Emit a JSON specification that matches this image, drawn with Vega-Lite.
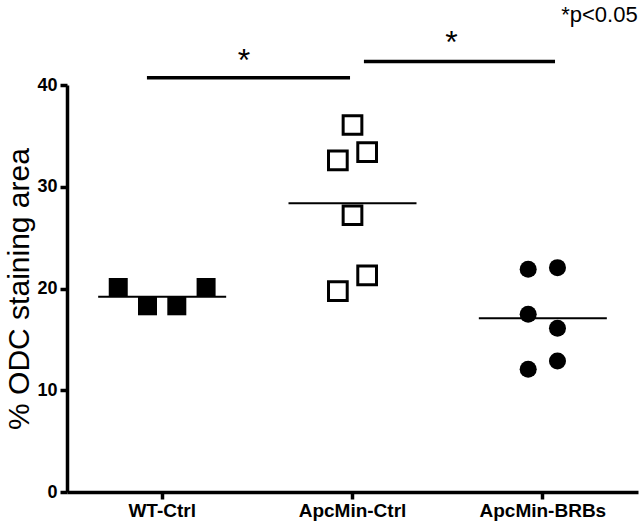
{
  "$schema": "https://vega.github.io/schema/vega-lite/v6.json",
  "width": 571,
  "height": 407,
  "autosize": {"type": "none"},
  "padding": {"left": 67, "top": 85, "right": 2, "bottom": 33},
  "background": "white",
  "config": {
    "view": {"stroke": null},
    "font": "Liberation Sans"
  },
  "datasets": {
    "points": [
      {"group": "WT-Ctrl", "slot": -3, "value": 20.1},
      {"group": "WT-Ctrl", "slot": -1, "value": 18.3},
      {"group": "WT-Ctrl", "slot": 1, "value": 18.3},
      {"group": "WT-Ctrl", "slot": 3, "value": 20.1},
      {"group": "ApcMin-Ctrl", "slot": 0, "value": 36.07},
      {"group": "ApcMin-Ctrl", "slot": -1, "value": 32.6},
      {"group": "ApcMin-Ctrl", "slot": 1, "value": 33.4},
      {"group": "ApcMin-Ctrl", "slot": 0, "value": 27.2},
      {"group": "ApcMin-Ctrl", "slot": 1, "value": 21.3},
      {"group": "ApcMin-Ctrl", "slot": -1, "value": 19.75},
      {"group": "ApcMin-BRBs", "slot": -1, "value": 21.9},
      {"group": "ApcMin-BRBs", "slot": 1, "value": 22.05},
      {"group": "ApcMin-BRBs", "slot": -1, "value": 17.46},
      {"group": "ApcMin-BRBs", "slot": 1, "value": 16.09},
      {"group": "ApcMin-BRBs", "slot": 1, "value": 12.87},
      {"group": "ApcMin-BRBs", "slot": -1, "value": 12.06}
    ],
    "means": [
      {"group": "WT-Ctrl", "value": 19.2},
      {"group": "ApcMin-Ctrl", "value": 28.39},
      {"group": "ApcMin-BRBs", "value": 17.07}
    ],
    "sig": [
      {"x": 0.42, "x2": 1.487, "y": 40.72},
      {"x": 1.56, "x2": 2.564, "y": 42.3}
    ],
    "labels": [
      {"x": 0.93, "y": 41.35, "t": "*"},
      {"x": 2.02, "y": 43.1, "t": "*"}
    ],
    "note": [
      {"x": 2.998, "y": 46.9, "t": "*p<0.05"}
    ]
  },
  "layer": [
    {
      "encoding": {
        "x": {
          "field": "group",
          "type": "nominal",
          "sort": null,
          "scale": {"type": "band", "domain": ["WT-Ctrl", "ApcMin-Ctrl", "ApcMin-BRBs"], "paddingInner": 0, "paddingOuter": 0},
          "axis": {
            "title": null,
            "labelAngle": 0,
            "labelFontSize": 19,
            "labelFontWeight": "bold",
            "labelColor": "black",
            "labelPadding": 2,
            "domainColor": "black",
            "domainWidth": 3.5,
            "tickColor": "black",
            "tickWidth": 3.5,
            "tickSize": 7,
            "grid": false
          }
        },
        "y": {
          "field": "value",
          "type": "quantitative",
          "scale": {"domain": [0, 40], "nice": false},
          "axis": {
            "values": [0, 10, 20, 30, 40],
            "title": "% ODC staining area",
            "titleFontSize": 30,
            "titleFontWeight": "normal",
            "titleColor": "black",
            "titlePadding": 2,
            "labelFontSize": 18,
            "labelFontWeight": "bold",
            "labelColor": "black",
            "labelPadding": 3,
            "domainColor": "black",
            "domainWidth": 3.5,
            "tickColor": "black",
            "tickWidth": 3.5,
            "tickSize": 7,
            "grid": false
          }
        }
      },
      "layer": [
        {
          "data": {"name": "points"},
          "transform": [{"filter": "datum.group === 'WT-Ctrl'"}],
          "mark": {"type": "square", "size": 361, "color": "black", "opacity": 1},
          "encoding": {"xOffset": {"field": "slot", "type": "quantitative", "scale": {"domain": [-6.5, 6.5]}}}
        },
        {
          "data": {"name": "points"},
          "transform": [{"filter": "datum.group === 'ApcMin-Ctrl'"}],
          "mark": {"type": "point", "shape": "square", "size": 350, "stroke": "black", "strokeWidth": 3, "fill": "white", "filled": false, "opacity": 1},
          "encoding": {"xOffset": {"field": "slot", "type": "quantitative", "scale": {"domain": [-6.5, 6.5]}}}
        },
        {
          "data": {"name": "points"},
          "transform": [{"filter": "datum.group === 'ApcMin-BRBs'"}],
          "mark": {"type": "circle", "size": 290, "color": "black", "opacity": 1},
          "encoding": {"xOffset": {"field": "slot", "type": "quantitative", "scale": {"domain": [-6.5, 6.5]}}}
        },
        {
          "data": {"name": "means"},
          "mark": {"type": "tick", "orient": "horizontal", "size": 128, "thickness": 2, "color": "black", "opacity": 1}
        }
      ]
    },
    {
      "encoding": {
        "x": {"field": "x", "type": "quantitative", "scale": {"domain": [0, 3], "nice": false, "zero": false}, "axis": null}
      },
      "layer": [
        {
          "data": {"name": "sig"},
          "mark": {"type": "rule", "strokeWidth": 3.5, "color": "black"},
          "encoding": {
            "x2": {"field": "x2"},
            "y": {"field": "y", "type": "quantitative"}
          }
        },
        {
          "data": {"name": "labels"},
          "mark": {"type": "text", "fontSize": 32, "align": "center", "baseline": "alphabetic", "color": "black"},
          "encoding": {
            "y": {"field": "y", "type": "quantitative"},
            "text": {"field": "t"}
          }
        },
        {
          "data": {"name": "note"},
          "mark": {"type": "text", "fontSize": 22, "align": "right", "baseline": "middle", "color": "black"},
          "encoding": {
            "y": {"field": "y", "type": "quantitative"},
            "text": {"field": "t"}
          }
        }
      ]
    }
  ],
  "resolve": {"scale": {"x": "independent"}}
}
